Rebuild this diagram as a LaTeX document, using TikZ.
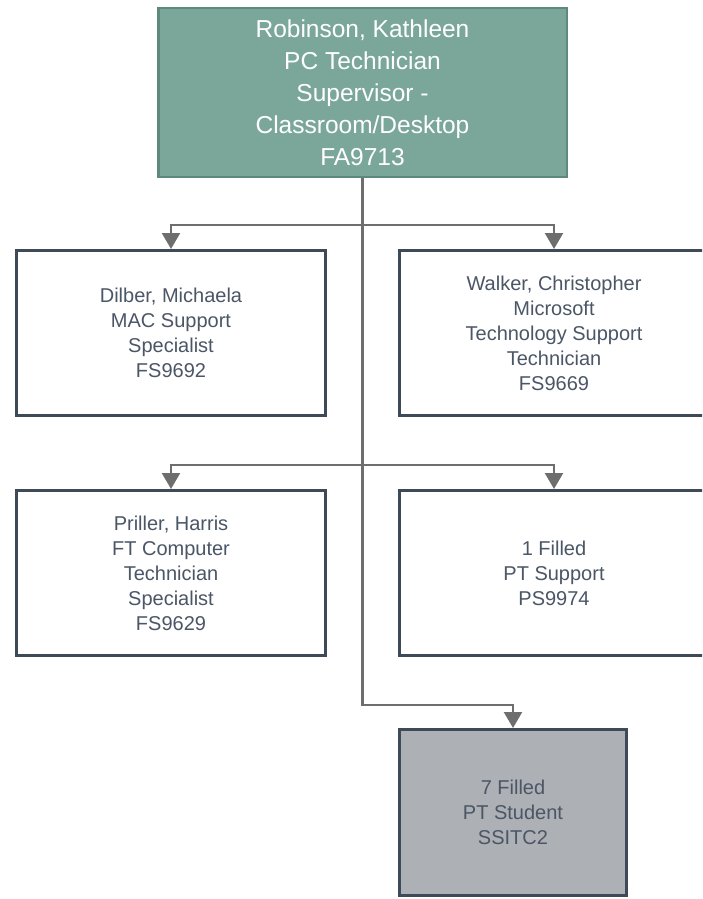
\documentclass[tikz,border=0pt]{standalone}
\usepackage{fontspec}
\setmainfont{Liberation Sans}
\usetikzlibrary{arrows.meta}
\definecolor{topfill}{HTML}{7BA79B}
\definecolor{topdraw}{HTML}{5F897E}
\definecolor{boxdraw}{HTML}{3E4A57}
\definecolor{boxtext}{HTML}{4B5666}
\definecolor{greyfill}{HTML}{ADB0B4}
\definecolor{conncol}{HTML}{6E6E6E}
\tikzset{
  headbox/.style={draw=topdraw, fill=topfill, line width=2.5pt, text=white,
    minimum width=408.5pt, minimum height=168.5pt, align=center, inner sep=0pt,
    font=\fontsize{24.5}{32}\selectfont},
  staffbox/.style={draw=boxdraw, fill=white, line width=3pt, text=boxtext,
    minimum width=309pt, minimum height=165pt, align=center, inner sep=0pt,
    font=\fontsize{20}{25}\selectfont},
  greybox/.style={staffbox, fill=greyfill, minimum width=227pt, minimum height=166pt},
  conn/.style={draw=conncol, line width=2.4pt},
  arr/.style={conn, -{Triangle[width=18pt,length=16pt]}}
}
\begin{document}
\begin{tikzpicture}[x=1pt,y=-1pt]
\useasboundingbox (0,0) rectangle (702,899);
\clip (0,0) rectangle (702,899);
\node[headbox] (top) at (362.5,92.5) {Robinson, Kathleen\\PC Technician\\Supervisor -\\Classroom/Desktop\\FA9713};
\node[staffbox] (A) at (171,333) {Dilber, Michaela\\MAC Support\\Specialist\\FS9692};
\node[staffbox] (B) at (554,333) {Walker, Christopher\\Microsoft\\Technology Support\\Technician\\FS9669};
\node[staffbox] (C) at (171,573) {Priller, Harris\\FT Computer\\Technician\\Specialist\\FS9629};
\node[staffbox] (D) at (554,573) {1 Filled\\PT Support\\PS9974};
\node[greybox] (E) at (513,812.5) {7 Filled\\PT Student\\SSITC2};
\coordinate (j1) at (362.5,225);
\coordinate (j2) at (362.5,465);
\coordinate (j3) at (362.5,705);
\draw[arr] (top.south) -- (j3) -| (E.north);
\draw[arr] (j1) -| (A.north);
\draw[arr] (j1) -| (B.north);
\draw[arr] (j2) -| (C.north);
\draw[arr] (j2) -| (D.north);
\end{tikzpicture}
\end{document}
